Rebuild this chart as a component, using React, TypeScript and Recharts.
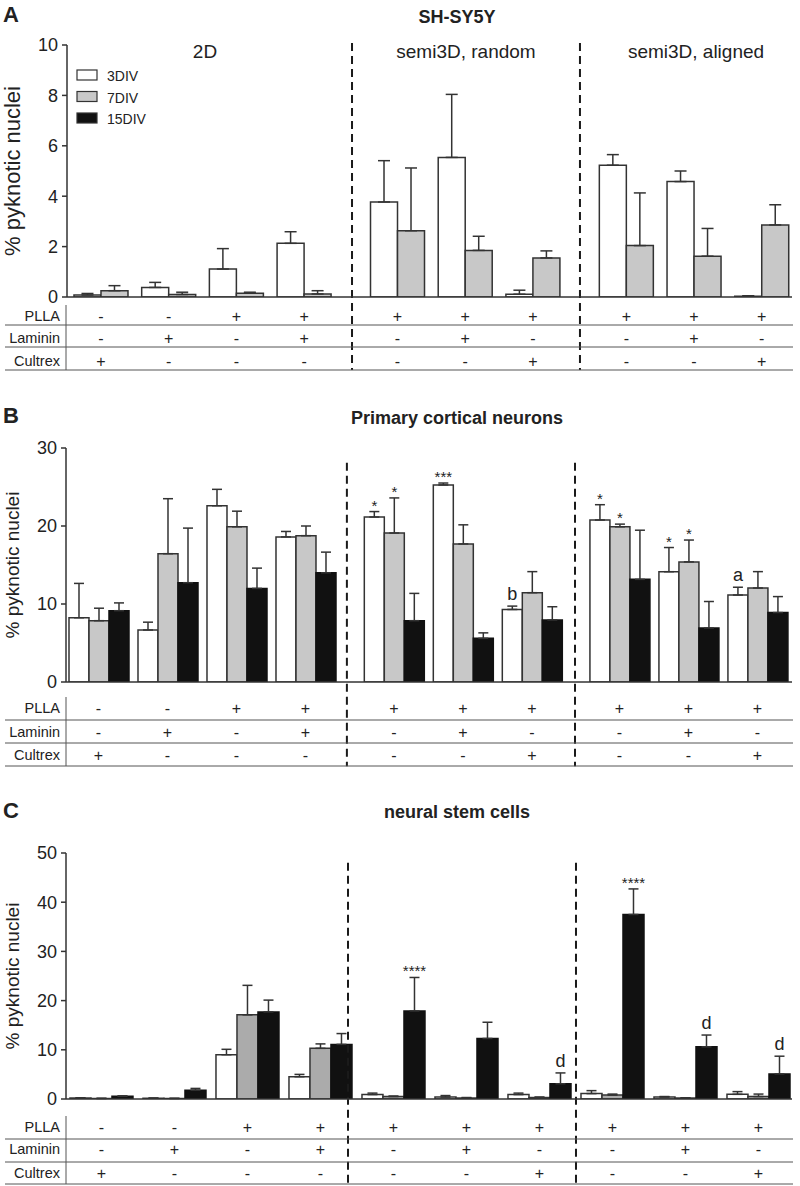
import React from "react";
import { BarChart, Bar, XAxis, YAxis, ErrorBar, ReferenceLine, LabelList } from "recharts";

const FONT = "'Liberation Sans', Arial, Helvetica, sans-serif";
const INK = "#222";
const AXIS = "#333";

const WHITE = "#ffffff";
const GREY = "#c8c8c8";
const GREY_C = "#ababab";
const BLACK = "#111111";

const SERIES_NAMES = ["3DIV", "7DIV", "15DIV"];
const LEGEND_FILLS = [WHITE, GREY, BLACK];

// condition table under each chart
const TABLE_LABELS = ["PLLA", "Laminin", "Cultrex"];
const PLLA = ["-", "-", "+", "+", "+", "+", "+", "+", "+", "+"];
const LAMININ = ["-", "+", "-", "+", "-", "+", "-", "-", "+", "-"];
const CULTREX = ["+", "-", "-", "-", "-", "-", "+", "-", "-", "+"];
const TABLE = [PLLA, LAMININ, CULTREX];

const SECTIONS = ["2D", "semi3D, random", "semi3D, aligned"];

// A: SH-SY5Y
const A_POS = [0, 1, 2, 3, 4.38, 5.38, 6.38, 7.76, 8.76, 9.76];
const A_3DIV = [0.08, 0.38, 1.11, 2.13, 3.77, 5.54, 0.11, 5.23, 4.58, 0.03];
const A_3DIV_ERR = [0.06, 0.2, 0.81, 0.46, 1.64, 2.5, 0.16, 0.42, 0.42, 0.02];
const A_7DIV = [0.25, 0.1, 0.15, 0.12, 2.63, 1.85, 1.55, 2.04, 1.62, 2.86];
const A_7DIV_ERR = [0.2, 0.09, 0.04, 0.13, 2.49, 0.56, 0.28, 2.09, 1.1, 0.8];
const A_TICKS = [0, 2, 4, 6, 8, 10];

// B: primary cortical neurons
const B_POS = [0, 1, 2, 3, 4.28, 5.28, 6.28, 7.55, 8.55, 9.55];
const B_3DIV = [8.24, 6.67, 22.6, 18.6, 21.15, 25.26, 9.3, 20.77, 14.14, 11.15];
const B_3DIV_ERR = [4.4, 1.0, 2.1, 0.7, 0.7, 0.25, 0.43, 1.96, 3.1, 1.0];
const B_3DIV_NOTE = ["", "", "", "", "*", "***", "b", "*", "*", "a"];
const B_7DIV = [7.86, 16.45, 19.9, 18.76, 19.1, 17.7, 11.45, 19.9, 15.4, 12.05];
const B_7DIV_ERR = [1.6, 7.05, 2.0, 1.24, 4.5, 2.45, 2.7, 0.34, 2.8, 2.1];
const B_7DIV_NOTE = ["", "", "", "", "*", "", "", "*", "*", ""];
const B_15DIV = [9.14, 12.73, 12.0, 14.0, 7.86, 5.6, 7.95, 13.16, 6.92, 8.9];
const B_15DIV_ERR = [1.0, 7.0, 2.6, 2.65, 3.5, 0.7, 1.7, 6.3, 3.4, 2.05];
const B_TICKS = [0, 10, 20, 30];

// C: neural stem cells
const C_POS = [0, 1, 2, 3, 4, 5, 6, 7, 8, 9];
const C_3DIV = [0.2, 0.15, 9.0, 4.53, 0.9, 0.4, 0.9, 1.1, 0.4, 0.95];
const C_3DIV_ERR = [0.05, 0.05, 1.1, 0.47, 0.3, 0.3, 0.3, 0.6, 0.1, 0.55];
const C_7DIV = [0.1, 0.1, 17.1, 10.3, 0.5, 0.2, 0.3, 0.8, 0.2, 0.5];
const C_7DIV_ERR = [0.05, 0.05, 6.0, 0.9, 0.1, 0.1, 0.1, 0.2, 0.05, 0.5];
const C_15DIV = [0.55, 1.8, 17.7, 11.1, 17.9, 12.3, 3.1, 37.5, 10.6, 5.1];
const C_15DIV_ERR = [0.1, 0.35, 2.4, 2.2, 6.8, 3.3, 2.2, 5.2, 2.4, 3.6];
const C_15DIV_NOTE = ["", "", "", "", "****", "", "d", "****", "d", "d"];
const C_TICKS = [0, 10, 20, 30, 40, 50];

type SeriesDef = {
  name: string;
  values: number[];
  errors: number[];
  notes?: string[];
  fill: string;
  stroke: string;
};

type PanelDef = {
  letter: string;
  title: string;
  top: number;
  height: number;
  axisY: number;
  plotTop: number;
  plotLeft: number;
  plotRight: number;
  xDomain: [number, number];
  pos: number[];
  dividers: number[];
  dividerY: [number, number];
  yTicks: number[];
  series: SeriesDef[];
  groupGap: number;
  cap: number;
  rowY: number[];
  lineY: number[];
  letterY: number;
  titleY: number;
  labelSize: number;
};

const XAXIS_H = 80;

const PANELS: PanelDef[] = [
  {
    letter: "A",
    title: "SH-SY5Y",
    top: 0,
    height: 380,
    axisY: 297,
    plotTop: 45,
    plotLeft: 67,
    plotRight: 792,
    xDomain: [-0.502, 10.207],
    pos: A_POS,
    dividers: [3.708, 7.075],
    dividerY: [10.08, -2.9],
    yTicks: A_TICKS,
    series: [
      { name: "3DIV", values: A_3DIV, errors: A_3DIV_ERR, fill: WHITE, stroke: AXIS },
      { name: "7DIV", values: A_7DIV, errors: A_7DIV_ERR, fill: GREY, stroke: AXIS },
    ],
    groupGap: 6.85,
    cap: 6,
    rowY: [19, 41, 64],
    lineY: [28, 50, 73],
    letterY: 22,
    titleY: 23,
    labelSize: 22,
  },
  {
    letter: "B",
    title: "Primary cortical neurons",
    top: 390,
    height: 390,
    axisY: 682,
    plotTop: 448,
    plotLeft: 66,
    plotRight: 792,
    xDomain: [-0.471, 10.051],
    pos: B_POS,
    dividers: [3.6, 6.906],
    dividerY: [28.1, -10.8],
    yTicks: B_TICKS,
    series: [
      { name: "3DIV", values: B_3DIV, errors: B_3DIV_ERR, notes: B_3DIV_NOTE, fill: WHITE, stroke: AXIS },
      { name: "7DIV", values: B_7DIV, errors: B_7DIV_ERR, notes: B_7DIV_NOTE, fill: GREY, stroke: AXIS },
      { name: "15DIV", values: B_15DIV, errors: B_15DIV_ERR, fill: BLACK, stroke: BLACK },
    ],
    groupGap: 5,
    cap: 5,
    rowY: [26, 50, 73],
    lineY: [38, 61, 84],
    letterY: 423,
    titleY: 424,
    labelSize: 19,
  },
  {
    letter: "C",
    title: "neural stem cells",
    top: 790,
    height: 396,
    axisY: 1099,
    plotTop: 853,
    plotLeft: 66,
    plotRight: 792,
    xDomain: [-0.486, 9.459],
    pos: C_POS,
    dividers: [3.377, 6.5],
    dividerY: [48.0, -17.3],
    yTicks: C_TICKS,
    series: [
      { name: "3DIV", values: C_3DIV, errors: C_3DIV_ERR, fill: WHITE, stroke: AXIS },
      { name: "7DIV", values: C_7DIV, errors: C_7DIV_ERR, fill: GREY_C, stroke: AXIS },
      { name: "15DIV", values: C_15DIV, errors: C_15DIV_ERR, notes: C_15DIV_NOTE, fill: BLACK, stroke: BLACK },
    ],
    groupGap: 5,
    cap: 5,
    rowY: [28, 50, 74],
    lineY: [40, 63, 85],
    letterY: 818,
    titleY: 818,
    labelSize: 19,
  },
];

function buildRows(pos: number[], series: SeriesDef[]) {
  return pos.map((p, i) => {
    const row: any = { pos: p };
    series.forEach((s, k) => {
      row[`v${k}`] = s.values[i];
      row[`e${k}`] = s.errors[i];
      row[`n${k}`] = s.notes ? s.notes[i] : "";
    });
    return row;
  });
}

function TableTick(props: any) {
  const { x, y, payload, pos, rowY } = props;
  let i = pos.indexOf(payload.value);
  if (i < 0) i = payload.index;
  if (i == null || i < 0) return null;
  return (
    <g>
      {TABLE.map((row, r) => (
        <text
          key={r}
          x={x}
          y={y + rowY[r]}
          textAnchor="middle"
          dominantBaseline="central"
          fontSize={16}
          fill={INK}
          fontFamily={FONT}
        >
          {row[i]}
        </text>
      ))}
    </g>
  );
}

function YLabel(props: any) {
  const vb = props.viewBox || { x: 0, y: 0, height: 0 };
  const cx = vb.x + 12;
  const cy = vb.y + vb.height / 2;
  return (
    <text
      x={cx}
      y={cy}
      transform={`rotate(-90, ${cx}, ${cy})`}
      textAnchor="middle"
      dominantBaseline="central"
      fontSize={props.size}
      fill={INK}
      fontFamily={FONT}
    >
      % pyknotic nuclei
    </text>
  );
}

// star / letter above the top of the error bar
const makeNote = (rows: any[], k: number) => (props: any) => {
  const { x, y, width, height, index } = props;
  const row = rows[index];
  if (!row) return null;
  const note = row[`n${k}`];
  if (!note) return null;
  const v = row[`v${k}`];
  const e = row[`e${k}`];
  const ppu = v > 0 ? Math.abs(height) / v : 0;
  const top = y - e * ppu;
  const star = note.startsWith("*");
  return (
    <text
      x={x + width / 2}
      y={star ? top - 1 : top - 6}
      textAnchor="middle"
      fontSize={star ? 15 : 18}
      fill={INK}
      fontFamily={FONT}
    >
      {note}
    </text>
  );
};

function PanelChart({ p }: { p: PanelDef }) {
  const rows = buildRows(p.pos, p.series);
  const marginTop = p.plotTop - p.top;
  const marginBottom = p.top + p.height - p.axisY - XAXIS_H;
  return (
    <div style={{ position: "absolute", left: 0, top: p.top }}>
      <BarChart
        width={800}
        height={p.height}
        data={rows}
        margin={{ top: marginTop, right: 800 - p.plotRight, bottom: marginBottom, left: 0 }}
        barGap={0}
        barCategoryGap={p.groupGap}
      >
        <XAxis
          type="number"
          dataKey="pos"
          domain={p.xDomain}
          ticks={p.pos}
          interval={0}
          allowDataOverflow
          tickLine={false}
          tickSize={0}
          tickMargin={0}
          height={XAXIS_H}
          axisLine={{ stroke: AXIS, strokeWidth: 1.5 }}
          tick={<TableTick pos={p.pos} rowY={p.rowY} />}
        />
        <YAxis
          width={p.plotLeft}
          domain={[p.yTicks[0], p.yTicks[p.yTicks.length - 1]]}
          ticks={p.yTicks}
          interval={0}
          allowDataOverflow
          tickSize={5}
          tickMargin={4}
          axisLine={{ stroke: AXIS, strokeWidth: 1.5 }}
          tickLine={{ stroke: AXIS, strokeWidth: 1.5 }}
          tick={{ fontSize: 18, fill: INK, fontFamily: FONT }}
          label={<YLabel size={p.labelSize} />}
        />
        {p.series.map((s, k) => (
          <Bar
            key={s.name}
            dataKey={`v${k}`}
            name={s.name}
            fill={s.fill}
            stroke={s.stroke}
            strokeWidth={1.5}
            isAnimationActive={false}
          >
            <ErrorBar
              dataKey={(d: any) => [0, d[`e${k}`]]}
              direction="y"
              width={p.cap}
              stroke={AXIS}
              strokeWidth={1.5}
            />
            <LabelList dataKey={`n${k}`} content={makeNote(rows, k)} />
          </Bar>
        ))}
        {p.dividers.map((d, i) => (
          <ReferenceLine
            key={i}
            segment={[
              { x: d, y: p.dividerY[0] },
              { x: d, y: p.dividerY[1] },
            ]}
            ifOverflow="visible"
            stroke="#1a1a1a"
            strokeWidth={2}
            strokeDasharray="8 5"
          />
        ))}
      </BarChart>
    </div>
  );
}

export default function App() {
  return (
    <div
      style={{
        position: "absolute",
        left: 0,
        top: 0,
        width: 800,
        height: 1186,
        background: "#fff",
        fontFamily: FONT,
        overflow: "hidden",
      }}
    >
      {PANELS.map((p) => (
        <PanelChart key={p.letter} p={p} />
      ))}
      <svg
        width={800}
        height={1186}
        style={{ position: "absolute", left: 0, top: 0, pointerEvents: "none" }}
        fontFamily={FONT}
      >
        {PANELS.map((p) => (
          <g key={p.letter} fill={INK}>
            <text x={3} y={p.letterY} fontSize={22} fontWeight="bold">
              {p.letter}
            </text>
            <text x={457} y={p.titleY} fontSize={18} fontWeight="bold" textAnchor="middle">
              {p.title}
            </text>
            {TABLE_LABELS.map((lab, r) => (
              <text
                key={lab}
                x={60}
                y={p.axisY + p.rowY[r]}
                textAnchor="end"
                dominantBaseline="central"
                fontSize={14.5}
              >
                {lab}
              </text>
            ))}
            {p.lineY.map((ly, r) => (
              <line key={r} x1={5} x2={793} y1={p.axisY + ly} y2={p.axisY + ly} stroke="#555" strokeWidth={1} />
            ))}
            <line
              x1={66}
              x2={66}
              y1={p.axisY + p.rowY[0] - 11}
              y2={p.axisY + p.lineY[2]}
              stroke="#555"
              strokeWidth={1}
            />
          </g>
        ))}
        {/* section headers of panel A */}
        {SECTIONS.map((s, i) => (
          <text key={s} x={[205, 466, 696][i]} y={58} fontSize={19} textAnchor="middle" fill={INK}>
            {s}
          </text>
        ))}
        {/* legend */}
        {SERIES_NAMES.map((n, i) => (
          <g key={n}>
            <rect x={77} y={70 + i * 21.5} width={20} height={10} fill={LEGEND_FILLS[i]} stroke={AXIS} strokeWidth={1.2} />
            <text x={107} y={81 + i * 21.5} fontSize={14} fill={INK}>
              {n}
            </text>
          </g>
        ))}
      </svg>
    </div>
  );
}
